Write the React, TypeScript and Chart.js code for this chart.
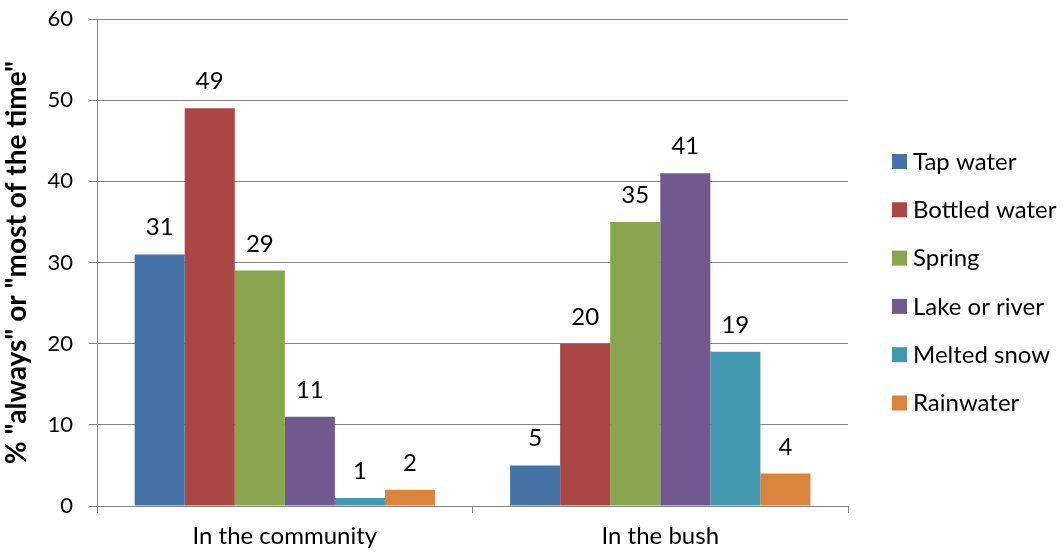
import React, { useEffect, useRef } from "react";
import { Chart, registerables } from "chart.js";

Chart.register(...registerables);

const categories = ["In the community", "In the bush"];
const seriesNames = ["Tap water", "Bottled water", "Spring", "Lake or river", "Melted snow", "Rainwater"];
const tapWater = [31, 5];
const bottledWater = [49, 20];
const spring = [29, 35];
const lakeOrRiver = [11, 41];
const meltedSnow = [1, 19];
const rainwater = [2, 4];
const colors = ["#4572A7", "#AA4643", "#89A54E", "#71588F", "#4198AF", "#DB843D"];
const yTicks = [0, 10, 20, 30, 40, 50, 60];

const FONT = "Lato, 'Open Sans', sans-serif";
const SIZE = 24;

const labelPlugin = {
  id: "barLabels",
  afterDatasetsDraw(chart: any) {
    const ctx = chart.ctx;
    ctx.save();
    ctx.font = `${SIZE}px ${FONT}`;
    ctx.fillStyle = "#000";
    ctx.textAlign = "center";
    ctx.textBaseline = "alphabetic";
    chart.data.datasets.forEach((ds: any, i: number) => {
      const meta = chart.getDatasetMeta(i);
      meta.data.forEach((bar: any, j: number) => {
        ctx.fillText(String(ds.data[j]), bar.x, bar.y - 19);
      });
    });
    ctx.restore();
  },
};

const legendPlugin = {
  id: "customLegend",
  afterDraw(chart: any) {
    const ctx = chart.ctx;
    ctx.save();
    ctx.font = `${SIZE}px ${FONT}`;
    ctx.textBaseline = "middle";
    ctx.textAlign = "left";
    const x0 = 892;
    const y0 = 161;
    const step = 48.3;
    chart.data.datasets.forEach((ds: any, i: number) => {
      const y = y0 + i * step;
      ctx.fillStyle = ds.backgroundColor;
      ctx.fillRect(x0, y - 7, 15, 15);
      ctx.fillStyle = "#000";
      ctx.fillText(ds.label, x0 + 21, y + 1);
    });
    ctx.restore();
  },
};

export default function App() {
  const ref = useRef<HTMLCanvasElement>(null);
  useEffect(() => {
    document.body.style.margin = "0";
    const values = [tapWater, bottledWater, spring, lakeOrRiver, meltedSnow, rainwater];
    const chart = new Chart(ref.current!, {
      type: "bar",
      data: {
        labels: categories,
        datasets: seriesNames.map((name, i) => ({
          label: name,
          data: values[i],
          backgroundColor: colors[i],
          borderWidth: 0,
          categoryPercentage: 0.8,
          barPercentage: 1,
        })),
      },
      options: {
        animation: false,
        responsive: false,
        maintainAspectRatio: false,
        layout: { padding: { top: 19, right: 216, left: 0, bottom: 0 } },
        plugins: {
          legend: { display: false },
          tooltip: { enabled: false },
        },
        scales: {
          x: {
            afterFit(scale: any) {
              scale.height = 46;
            },
            grid: {
              drawOnChartArea: false,
              drawTicks: true,
              tickLength: 7,
              color: "#868686",
              offset: true,
            },
            border: { color: "#868686", width: 1 },
            ticks: { color: "#000", font: { size: SIZE, family: FONT }, padding: 9 },
          },
          y: {
            min: 0,
            max: 60,
            afterBuildTicks(axis: any) {
              axis.ticks = yTicks.map((v) => ({ value: v }));
            },
            afterFit(scale: any) {
              scale.paddingTop = 0;
              scale.paddingBottom = 0;
              scale.width = scale.width - 2;
            },
            grid: { color: "#868686", tickLength: 8 },
            border: { color: "#868686", width: 1 },
            ticks: { color: "#000", font: { size: 22, family: FONT }, padding: 16 },
            title: {
              display: true,
              text: '% "always" or "most of the time"',
              color: "#000",
              font: { size: 28, weight: "bold", family: FONT },
              padding: { top: 0, bottom: 0 },
            },
          },
        },
      },
      plugins: [labelPlugin, legendPlugin],
    });
    return () => chart.destroy();
  }, []);
  return <canvas ref={ref} width={1064} height={552} style={{ display: "block" }} />;
}
